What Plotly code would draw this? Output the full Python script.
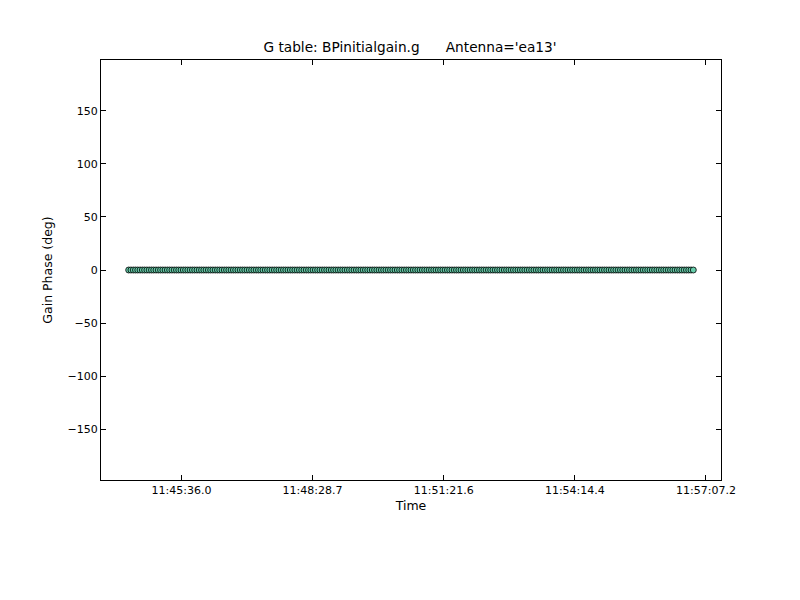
import plotly.graph_objects as go
import pandas as pd

# Observation start (first solution time) and per-solution offsets in seconds
start_time = "2000-01-01 11:44:26.5"
offsets_s = [
    0, 3, 6, 9, 12, 15, 18, 21, 24, 27, 30, 33, 36, 39, 42, 45, 48, 51, 54, 57,
    60, 63, 66, 69, 72, 75, 78, 81, 84, 87, 90, 93, 96, 99, 102, 105, 108, 111, 114, 117,
    120, 123, 126, 129, 132, 135, 138, 141, 144, 147, 150, 153, 156, 159, 162, 165, 168, 171, 174, 177,
    180, 183, 186, 189, 192, 195, 198, 201, 204, 207, 210, 213, 216, 219, 222, 225, 228, 231, 234, 237,
    240, 243, 246, 249, 252, 255, 258, 261, 264, 267, 270, 273, 276, 279, 282, 285, 288, 291, 294, 297,
    300, 303, 306, 309, 312, 315, 318, 321, 324, 327, 330, 333, 336, 339, 342, 345, 348, 351, 354, 357,
    360, 363, 366, 369, 372, 375, 378, 381, 384, 387, 390, 393, 396, 399, 402, 405, 408, 411, 414, 417,
    420, 423, 426, 429, 432, 435, 438, 441, 444, 447, 450, 453, 456, 459, 462, 465, 468, 471, 474, 477,
    480, 483, 486, 489, 492, 495, 498, 501, 504, 507, 510, 513, 516, 519, 522, 525, 528, 531, 534, 537,
    540, 543, 546, 549, 552, 555, 558, 561, 564, 567, 570, 573, 576, 579, 582, 585, 588, 591, 594, 597,
    600, 603, 606, 609, 612, 615, 618, 621, 624, 627, 630, 633, 636, 639, 642, 645, 648, 651, 654, 657,
    660, 663, 666, 669, 672, 675, 678, 681, 684, 687, 690, 693, 696, 699, 702, 705, 708, 711, 714, 717,
    720, 723, 726, 729, 732, 735, 738, 741, 744,
]
# Gain phase (deg) for the reference antenna: all zero
phase_deg = [0.0] * len(offsets_s)

x_tick_vals = ["2000-01-01 11:45:36.0", "2000-01-01 11:48:28.7", "2000-01-01 11:51:21.6",
               "2000-01-01 11:54:14.4", "2000-01-01 11:57:07.2"]
x_tick_text = ["11:45:36.0", "11:48:28.7", "11:51:21.6", "11:54:14.4", "11:57:07.2"]
x_range = ["2000-01-01 11:43:50.0", "2000-01-01 11:57:27.0"]
y_tick_vals = [-150, -100, -50, 0, 50, 100, 150]
y_range = [-198, 198]

t0 = pd.Timestamp(start_time)
times = [t0 + pd.Timedelta(seconds=s) for s in offsets_s]

fig = go.Figure()
fig.add_trace(go.Scatter(
    x=times, y=phase_deg, mode="markers",
    marker=dict(size=6, color="#66CDAA", line=dict(color="black", width=0.8)),
    showlegend=False,
))

font = "DejaVu Sans, sans-serif"
axis_common = dict(
    showgrid=False, zeroline=False, showline=True, linecolor="black", linewidth=1,
    mirror="ticks", ticks="inside", ticklen=5, tickwidth=1, tickcolor="black",
    tickfont=dict(family=font, size=11, color="black"),
)

fig.update_layout(
    width=800, height=600,
    paper_bgcolor="white", plot_bgcolor="white",
    margin=dict(l=93, r=87, t=52, b=128),
    title=dict(text="G table: BPinitialgain.g      Antenna='ea13'",
               x=0.5025, xanchor="center", y=0.935, yanchor="middle",
               font=dict(family=font, size=13.7, color="black")),
    font=dict(family=font, color="black"),
)
fig.update_xaxes(
    type="date", range=x_range, tickmode="array", tickvals=x_tick_vals, ticktext=x_tick_text,
    title=dict(text="Time", font=dict(family=font, size=12.5, color="black"), standoff=5),
    **axis_common,
)
fig.update_yaxes(
    range=y_range, tickmode="array", tickvals=y_tick_vals,
    title=dict(text="Gain Phase (deg)", font=dict(family=font, size=12.5, color="black"), standoff=12),
    **axis_common,
)

fig.write_html("out.html")
